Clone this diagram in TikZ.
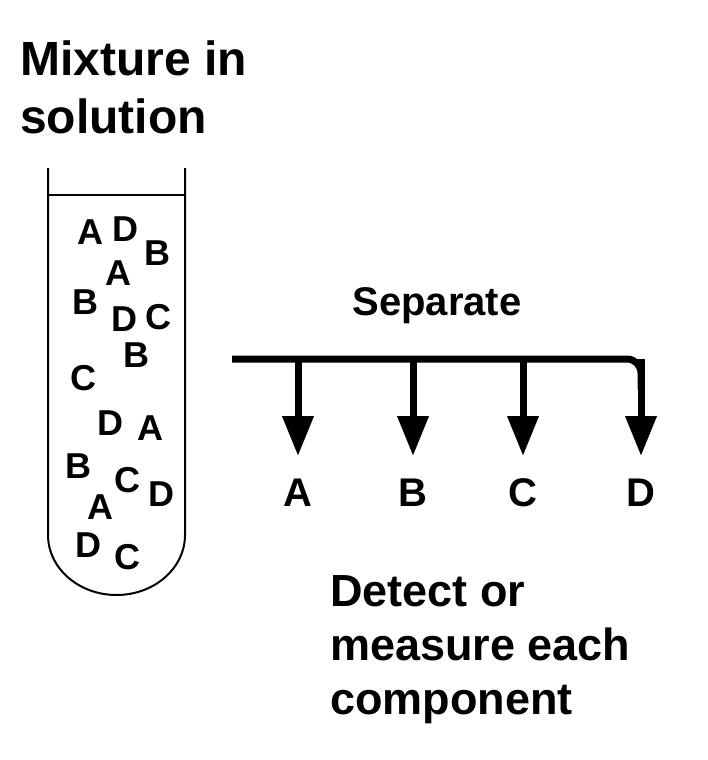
\documentclass[tikz,border=0pt]{standalone}
\usepackage{fontspec}
\setmainfont{Liberation Sans}
\usetikzlibrary{arrows.meta}
\tikzset{
	title/.style={anchor=base west, inner sep=0pt, font=\fontsize{48}{52}\selectfont\bfseries},
	result/.style={title, font=\fontsize{45}{50}\selectfont\bfseries},
	mol/.style={inner sep=0pt, font=\fontsize{36}{40}\selectfont\bfseries},
	part/.style={inner sep=0pt, font=\fontsize{40}{44}\selectfont\bfseries},
	flow/.style={line width=7pt, rounded corners=14pt},
}
\begin{document}
\begin{tikzpicture}[x=1pt, y=-1pt]
		\useasboundingbox (0, 0) rectangle (708, 760);
		% heading
		\node[title] (head1) at (20, 75) {Mixture in};
		\node[title] (head2) at (20, 133) {solution};
		% test tube
		\draw[line width=2pt] (48, 168) -- (48, 535) arc[start angle=180, end angle=0, x radius=68.5, y radius=60] -- (185, 168);
		\draw[line width=2pt] (48, 195) -- (185, 195);
		\foreach \x/\y/\l in {90/232/A, 125/229/D, 157/253/B, 118/273/A, 85/302/B, 124/319/D, 158/317/C,
				136/355/B, 83/378/C, 110/423/D, 150/428/A, 78/466/B, 127/480/C, 100/507/A, 161/494/D,
				88/545/D, 127/557/C}
			\node[mol] at (\x, \y) {\l};
		% separation
		\node[part, anchor=base] (sep) at (437, 315) {Separate};
		\coordinate (start) at (232, 359);
		\foreach \x/\l in {298/A, 413/B, 523/C, 641/D}
		{
			\node[part] (\l) at (\x, 493) {\l};
			\coordinate (top\l) at (\x, 359);
			\coordinate (tip\l) at (\x, 456);
		}
		\draw[flow] (start) -- (topD) -- ++(0, 30);
		\foreach \l in {A, B, C, D}
			\draw[line width=7pt, -{Triangle[width=30pt, length=40pt]}] (top\l) -- (tip\l);
		% result
		\node[result] (det1) at (330, 606) {Detect or};
		\node[result] (det2) at (330, 660) {measure each};
		\node[result] (det3) at (330, 714) {component};
	\end{tikzpicture}
\end{document}
